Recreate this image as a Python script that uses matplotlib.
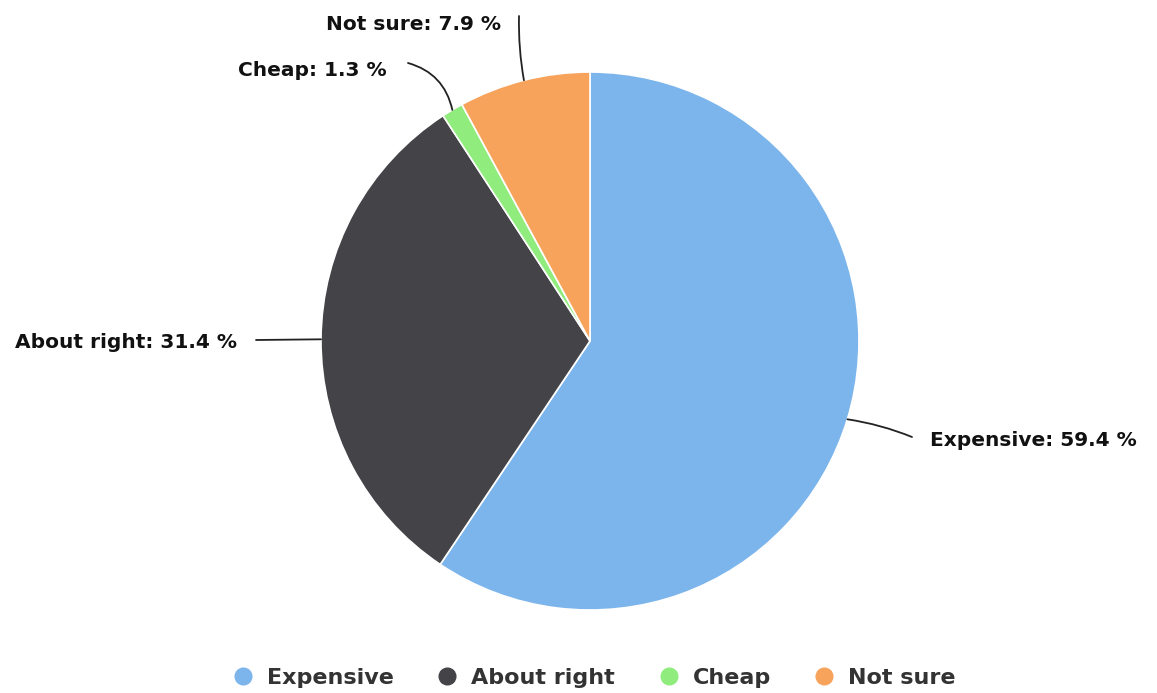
import matplotlib
matplotlib.use("Agg")
import matplotlib.pyplot as plt
from matplotlib.lines import Line2D
import numpy as np

categories = ["Expensive", "About right", "Cheap", "Not sure"]
shares = [59.4, 31.4, 1.3, 7.9]
colors = ["#7cb5ec", "#434348", "#90ed7d", "#f7a35c"]

W, H = 1157, 693
fig = plt.figure(figsize=(W / 100, H / 100), dpi=100)

# pie centre and radius in pixels
cx, cy, r = 590, 341, 269
ax = fig.add_axes([(cx - r) / W, (H - cy - r) / H, 2 * r / W, 2 * r / H])
wedges, _ = ax.pie(shares, colors=colors, startangle=90, counterclock=False,
                   radius=1, wedgeprops=dict(edgecolor="white", linewidth=1.2))
ax.set_xlim(-1, 1)
ax.set_ylim(-1, 1)
ax.set_aspect("equal")
ax.axis("off")


def px(x, y):
    # figure pixel -> data coords of the pie axes
    return ((x - cx) / r, (cy - y) / r)


# label text anchor (pixels), alignment, connector curvature
label_pos = {
    "Expensive": ((930, 441), "left", 0.06),
    "About right": ((237, 343), "right", 0.0),
    "Cheap": ((387, 71), "right", -0.3),
    "Not sure": ((501, 24), "right", 0.05),
}
conn_end = {
    "Expensive": (912, 437),
    "About right": (256, 340),
    "Cheap": (408, 63),
    "Not sure": (519, 16),
}

for w, name, val in zip(wedges, categories, shares):
    ang = np.deg2rad((w.theta1 + w.theta2) / 2)
    edge = (np.cos(ang), np.sin(ang))
    (tx, ty), ha, rad = label_pos[name]
    ax.annotate("", xy=edge, xytext=px(*conn_end[name]),
                arrowprops=dict(arrowstyle="-", color="#222222", lw=1.3,
                                shrinkA=0, shrinkB=0,
                                connectionstyle=f"arc3,rad={rad}"),
                annotation_clip=False)
    ax.text(*px(tx, ty), f"{name}: {val} %", ha=ha, va="center",
            fontsize=14.5, fontweight="bold", color="#111111")

handles = [Line2D([], [], marker="o", linestyle="", markersize=12,
                  markerfacecolor=c, markeredgecolor=c) for c in colors]
fig.legend(handles, categories, loc="center", bbox_to_anchor=(595 / W, 1 - 678 / H),
           ncol=4, frameon=False, handlelength=0.8, handletextpad=0.68,
           columnspacing=2.0, prop=dict(size=16, weight="bold"),
           labelcolor="#333333")

fig.savefig("out.png", dpi=100, facecolor="white")
